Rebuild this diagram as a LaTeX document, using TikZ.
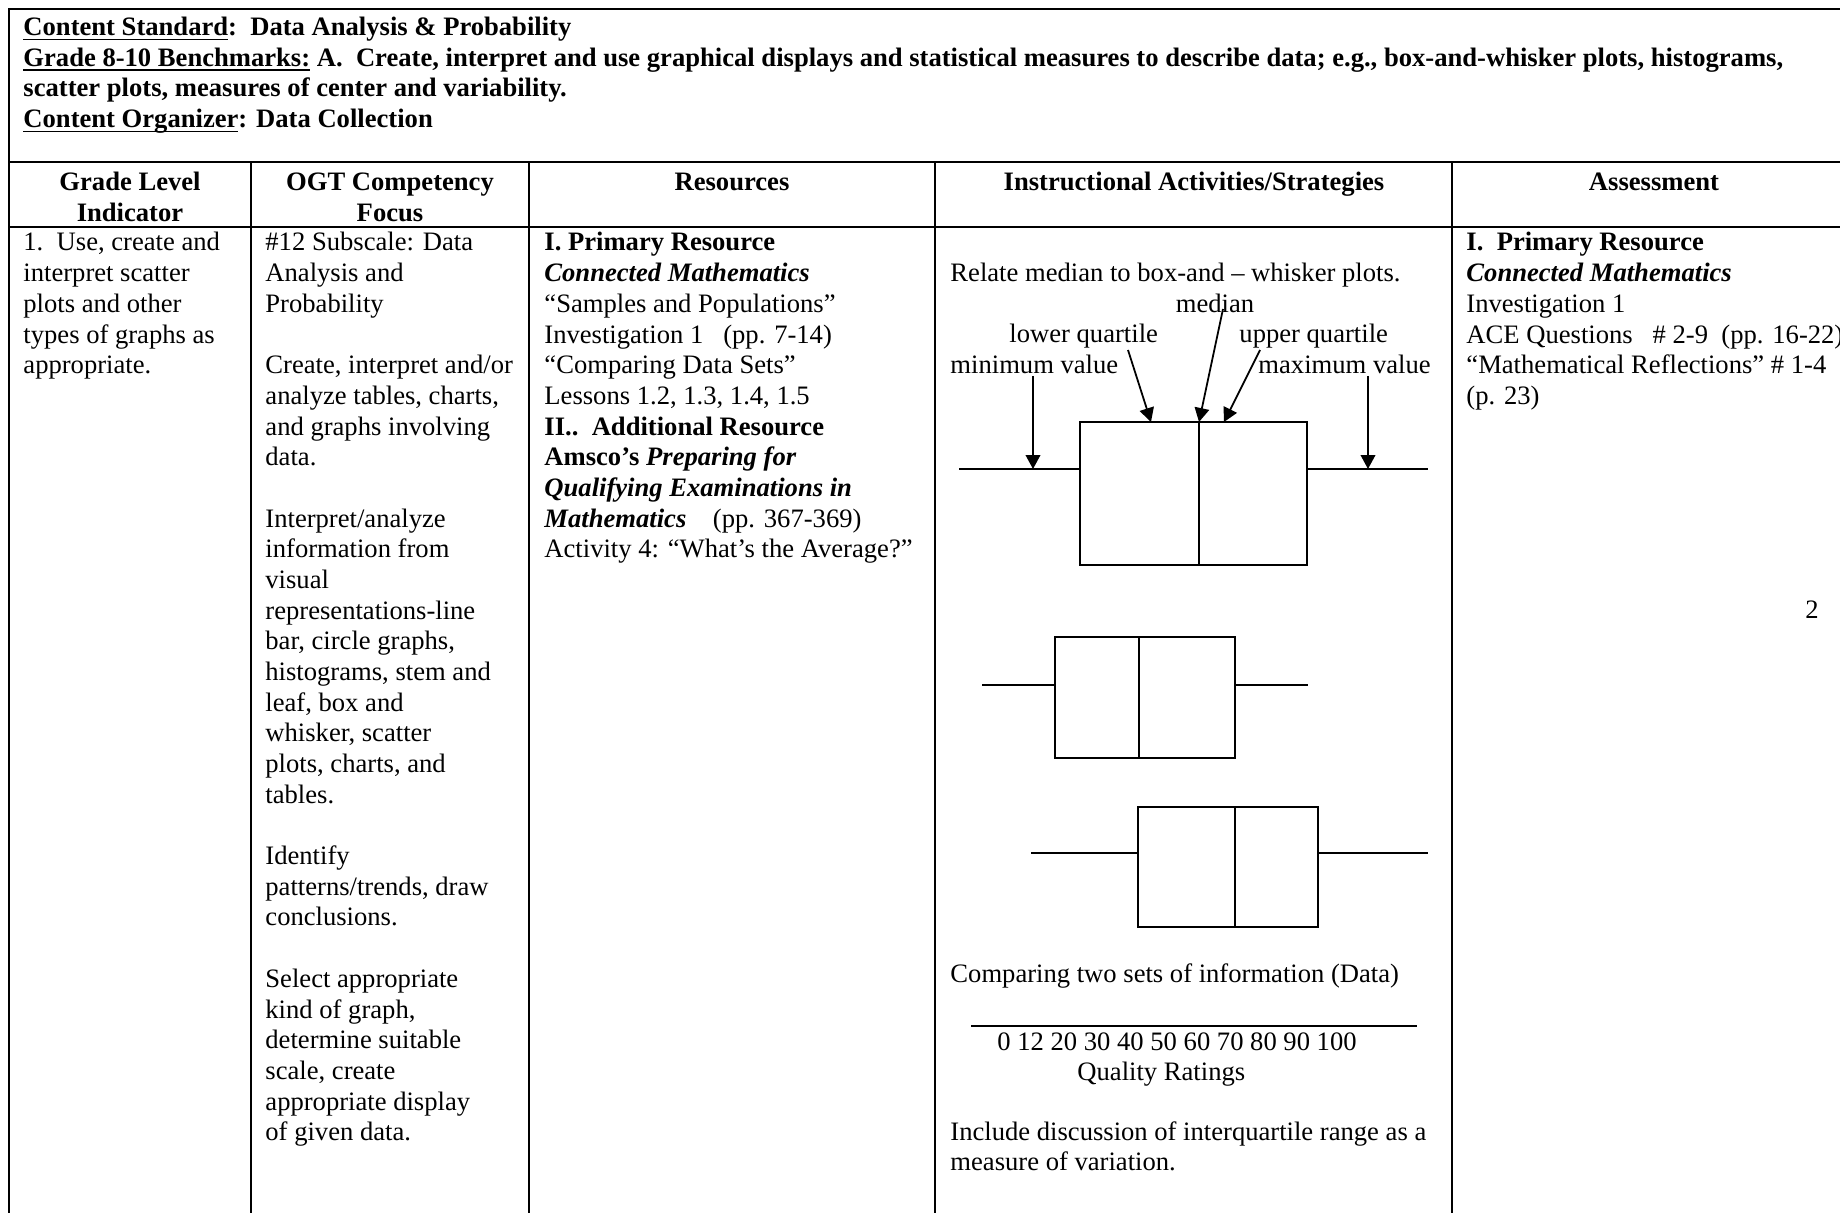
\documentclass[tikz,border=0pt]{standalone}
\usepackage{fontspec}
\setmainfont{Liberation Serif}
\usetikzlibrary{arrows.meta}
\newcommand\hdul[1]{\setbox0\hbox{#1}\rlap{\rule[-2.2pt]{\wd0}{0.8pt}}\box0\relax}
\begin{document}
\begin{tikzpicture}[x=0.451pt,y=-0.451pt,
  txt/.style={anchor=base west,inner sep=0pt,font=\fontsize{12pt}{13.8pt}\selectfont},
  hdtxt/.style={anchor=base west,inner sep=0pt,font=\fontsize{12pt}{13.8pt}\selectfont\bfseries},
  colhd/.style={anchor=base,inner sep=0pt,font=\fontsize{12pt}{13.8pt}\selectfont\bfseries},
  tbl/.style={line width=1.2pt,line cap=rect},
  bx/.style={line width=0.9pt},
  arr/.style={line width=0.8pt,-{Triangle[length=6.3pt,width=6.6pt]}}]
\useasboundingbox (0,0) rectangle (1840,1213);
\clip (0,0) rectangle (1840,1213);

% table frame
\draw[tbl] (9,1230) -- (9,9) -- (1860,9);
\draw[tbl] (9,162) -- (1860,162);
\draw[tbl] (9,227) -- (1860,227);
\foreach \cx in {251,529,935,1452} \draw[tbl] (\cx,162) -- (\cx,1230);

% page header
\node[hdtxt] (h1) at (23,35.5) {\hdul{Content Standard}:\ \ Data Analysis \& Probability};
\node[hdtxt] (h2) at (23,66.2) {\hdul{Grade 8-10 Benchmarks:} A.\ \ Create, interpret and use graphical displays and statistical measures to describe data; e.g., box-and-whisker plots, histograms,};
\node[hdtxt] (h3) at (23,96.9) {scatter plots, measures of center and variability.};
\node[hdtxt] (h4) at (23,127.5) {\hdul{Content Organizer}: Data Collection};

% column headers
\node[colhd] (c1a) at (130,191) {Grade Level};
\node[colhd] (c1b) at (130,222) {Indicator};
\node[colhd] (c2a) at (390,191) {OGT Competency};
\node[colhd] (c2b) at (390,222) {Focus};
\node[colhd] (c3a) at (732,191) {Resources};
\node[colhd] (c4a) at (1194,191) {Instructional Activities/Strategies};
\node[colhd] (c5a) at (1654,191) {Assessment};

% column 1
\foreach \i/\t in {0/{1.\ \ Use, create and},1/{interpret scatter},2/{plots and other},3/{types of graphs as},4/{appropriate.}}
  \node[txt] (a-\i) at (23,251+\i*30.68) {\t};

% column 2
\foreach \i/\t in {0/{\#12 Subscale: Data},1/{Analysis and},2/{Probability},
  4/{Create, interpret and/or},5/{analyze tables, charts,},6/{and graphs involving},7/{data.},
  9/{Interpret/analyze},10/{information from},11/{visual},12/{representations-line},
  13/{bar, circle graphs,},14/{histograms, stem and},15/{leaf, box and},16/{whisker, scatter},
  17/{plots, charts, and},18/{tables.},
  20/{Identify},21/{patterns/trends, draw},22/{conclusions.},
  24/{Select appropriate},25/{kind of graph,},26/{determine suitable},27/{scale, create},
  28/{appropriate display},29/{of given data.}}
  \node[txt] (b-\i) at (265,251+\i*30.68) {\t};

% column 3
\foreach \i/\t in {0/{\textbf{I. Primary Resource}},1/{\textbf{\textit{Connected Mathematics}}},
  2/{“Samples and Populations”},3/{Investigation 1~~~(pp. 7-14)},4/{“Comparing Data Sets”},
  5/{Lessons 1.2, 1.3, 1.4, 1.5},6/{\textbf{II..\ \ Additional Resource}},
  7/{\textbf{Amsco’s \textit{Preparing for}}},8/{\textbf{\textit{Qualifying Examinations in}}},
  9/{\textbf{\textit{Mathematics}}~~~~(pp. 367-369)},10/{Activity 4: “What’s the Average?”}}
  \node[txt] (r-\i) at (544,251+\i*30.68) {\t};

% column 5
\foreach \i/\t in {0/{\textbf{I.\ \ Primary Resource}},1/{\textbf{\textit{Connected Mathematics}}},
  2/{Investigation 1},3/{ACE Questions~~~\# 2-9~~(pp. 16-22)},
  4/{“Mathematical Reflections” \# 1-4},5/{(p. 23)}}
  \node[txt] (s-\i) at (1466,251+\i*30.68) {\t};
\node[txt,anchor=base] (pg) at (1812,619) {2};

% column 4 text
\node[txt] (rel) at (950,282) {Relate median to box-and – whisker plots.};
\node[txt,anchor=base] (lmed) at (1215,312.5) {median};
\node[txt] (llq) at (1009,343) {lower quartile};
\node[txt] (luq) at (1239,343) {upper quartile};
\node[txt] (lmin) at (950,374) {minimum value};
\node[txt] (lmax) at (1258,374) {maximum value};

% box plot 1
\draw[bx] (959,469) -- (1080,469);
\draw[bx] (1307,469) -- (1428,469);
\draw[bx] (1080,422) rectangle (1307,565);
\draw[bx] (1199,422) -- (1199,565);
\coordinate (pmin) at (1033,469);
\coordinate (pmax) at (1368,469);
\coordinate (plq) at (1151,422);
\coordinate (pmed) at (1199,422);
\coordinate (puq) at (1224,422);
\coordinate (smin) at (1033,376);
\coordinate (smax) at (1368,376);
\coordinate (slq) at (1128,350);
\coordinate (smed) at (1223,309);
\coordinate (suq) at (1260,350);
\draw[arr] (smin) -- (pmin);
\draw[arr] (smax) -- (pmax);
\draw[arr] (slq) -- (plq);
\draw[arr] (smed) -- (pmed);
\draw[arr] (suq) -- (puq);

% box plot 2
\draw[bx] (982,685) -- (1055,685);
\draw[bx] (1235,685) -- (1308,685);
\draw[bx] (1055,637) rectangle (1235,758);
\draw[bx] (1139,637) -- (1139,758);

% box plot 3
\draw[bx] (1031,853) -- (1138,853);
\draw[bx] (1318,853) -- (1428,853);
\draw[bx] (1138,807) rectangle (1318,927);
\draw[bx] (1235,807) -- (1235,927);

% comparing
\node[txt] (cmp) at (950,982) {Comparing two sets of information (Data)};
\draw[bx] (971,1026) -- (1417,1026);
\node[txt] (nums) at (997,1050) {0 12 20 30 40 50 60 70 80 90 100};
\node[txt] (qr) at (1077,1080) {Quality Ratings};
\node[txt] (inc1) at (950,1140) {Include discussion of interquartile range as a};
\node[txt] (inc2) at (950,1170) {measure of variation.};
\end{tikzpicture}
\end{document}
